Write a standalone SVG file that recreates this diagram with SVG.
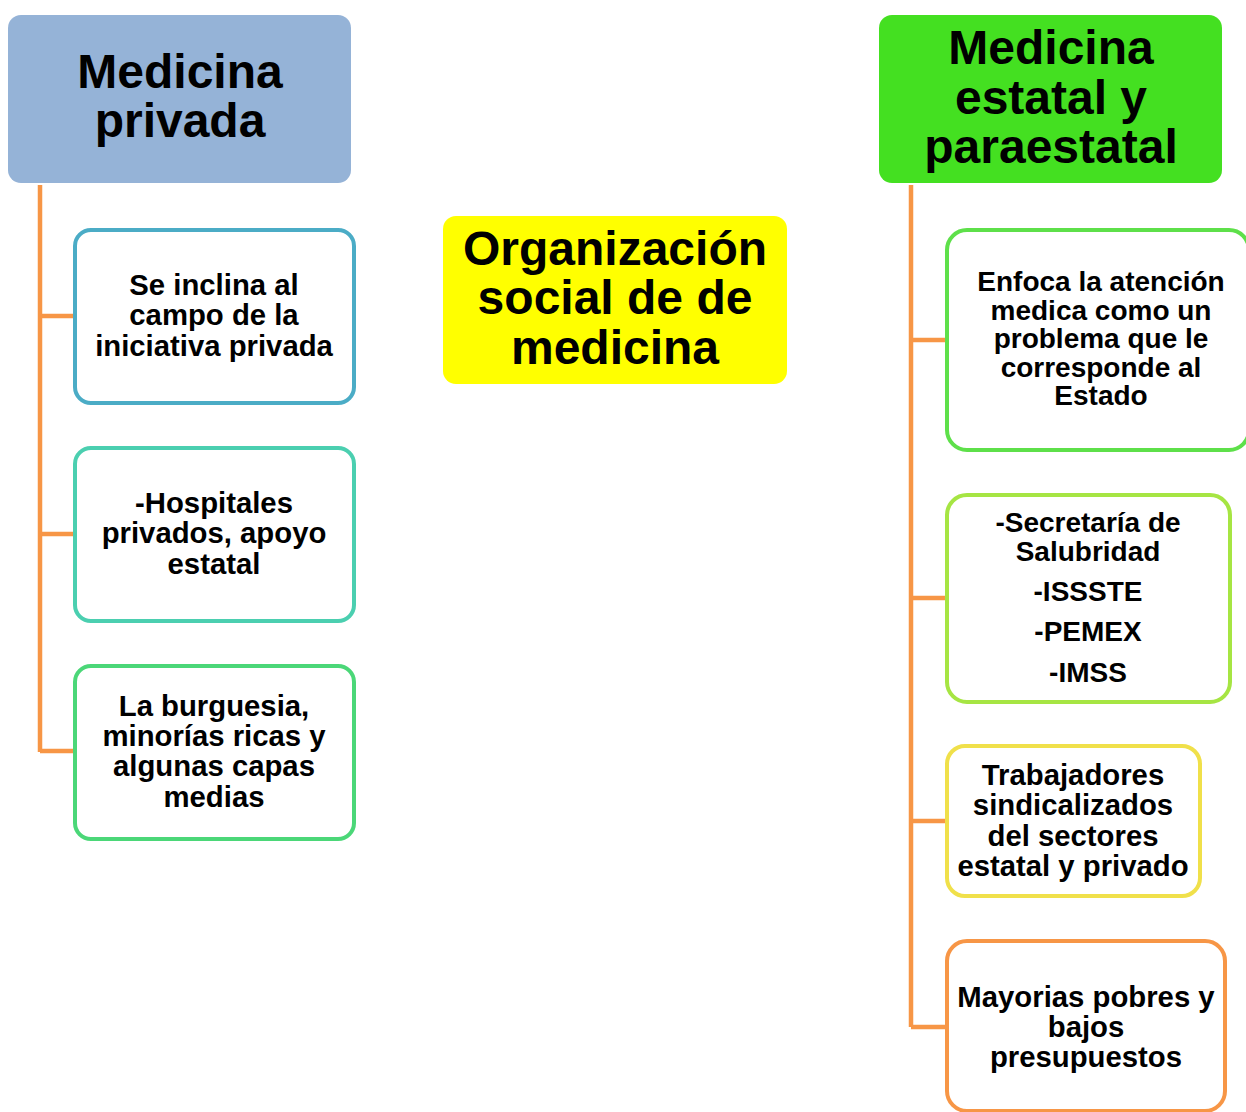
<svg xmlns="http://www.w3.org/2000/svg" width="1246" height="1112" viewBox="0 0 1246 1112">
<style>
text{font-family:"Liberation Sans",Arial,sans-serif;font-weight:bold;fill:#000;text-anchor:middle}
.h{font-size:48px}
.t{font-size:29.3px}
.s{font-size:28px}
.box{fill:#fff;stroke-width:4}
.conn{fill:none;stroke:#f79646;stroke-width:4.5}
</style>
<rect width="1246" height="1112" fill="#fff"/>
<g id="connectors">
<path class="conn" d="M40 185 V752 M40 316 H74 M40 534 H74 M40 751 H74"/>
<path class="conn" d="M911 185 V1027 M911 340 H946 M911 598 H946 M911 821 H946 M911 1027 H946"/>
</g>
<g id="medicina-privada">
<rect x="8" y="15" width="343" height="168" rx="13" fill="#95b3d7"/>
<text class="h" x="180" y="88">Medicina</text>
<text class="h" x="180" y="137">privada</text>
</g>
<g id="organizacion">
<rect x="443" y="216" width="344" height="168" rx="13" fill="#ffff00"/>
<text class="h" x="615" y="265">Organización</text>
<text class="h" x="615" y="314">social de de</text>
<text class="h" x="615" y="364">medicina</text>
</g>
<g id="medicina-estatal">
<rect x="879" y="15" width="343" height="168" rx="13" fill="#44e021"/>
<text class="h" x="1051" y="64">Medicina</text>
<text class="h" x="1051" y="114">estatal y</text>
<text class="h" x="1051" y="163">paraestatal</text>
</g>
<g id="p1">
<rect class="box" x="75" y="230" width="279" height="173" rx="16" stroke="#4bacc6"/>
<text class="t" x="214" y="295">Se inclina al</text>
<text class="t" x="214" y="325">campo de la</text>
<text class="t" x="214" y="356">iniciativa privada</text>
</g>
<g id="p2">
<rect class="box" x="75" y="448" width="279" height="173" rx="16" stroke="#4bcfb0"/>
<text class="t" x="214" y="513">-Hospitales</text>
<text class="t" x="214" y="543">privados, apoyo</text>
<text class="t" x="214" y="574">estatal</text>
</g>
<g id="p3">
<rect class="box" x="75" y="666" width="279" height="173" rx="16" stroke="#4bd778"/>
<text class="t" x="214" y="716">La burguesia,</text>
<text class="t" x="214" y="746">minorías ricas y</text>
<text class="t" x="214" y="776">algunas capas</text>
<text class="t" x="214" y="807">medias</text>
</g>
<g id="e1">
<rect class="box" x="947" y="230" width="302" height="220" rx="20" stroke="#5ee04a"/>
<text class="s" x="1101" y="291">Enfoca la atención</text>
<text class="s" x="1101" y="320">medica como un</text>
<text class="s" x="1101" y="348">problema que le</text>
<text class="s" x="1101" y="377">corresponde al</text>
<text class="s" x="1101" y="405">Estado</text>
</g>
<g id="e2">
<rect class="box" x="947" y="495" width="283" height="207" rx="20" stroke="#a6e543"/>
<text class="s" x="1088" y="532">-Secretaría de</text>
<text class="s" x="1088" y="561">Salubridad</text>
<text class="s" x="1088" y="601">-ISSSTE</text>
<text class="s" x="1088" y="641">-PEMEX</text>
<text class="s" x="1088" y="682">-IMSS</text>
</g>
<g id="e3">
<rect class="box" x="947" y="746" width="253" height="150" rx="18" stroke="#f0e04a"/>
<text class="t" x="1073" y="785">Trabajadores</text>
<text class="t" x="1073" y="815">sindicalizados</text>
<text class="t" x="1073" y="846">del sectores</text>
<text class="t" x="1073" y="876">estatal y privado</text>
</g>
<g id="e4">
<rect class="box" x="947" y="941" width="278" height="170" rx="20" stroke="#f79646"/>
<text class="t" x="1086" y="1007">Mayorias pobres y</text>
<text class="t" x="1086" y="1037">bajos</text>
<text class="t" x="1086" y="1067">presupuestos</text>
</g>
</svg>
